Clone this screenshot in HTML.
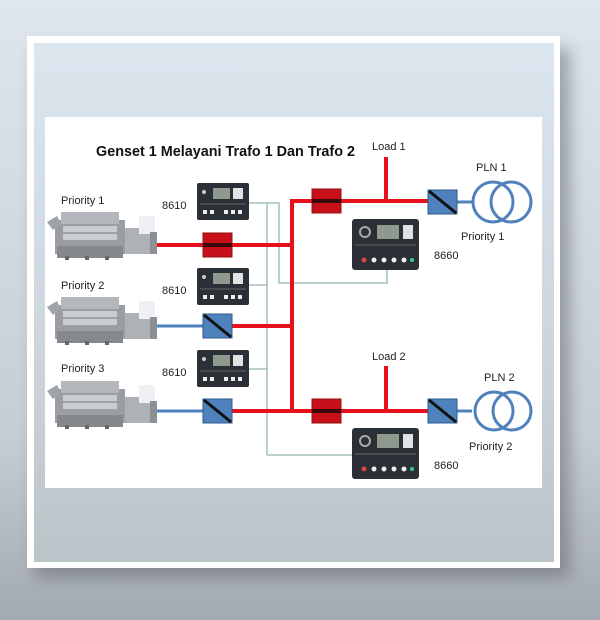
<!DOCTYPE html>
<html><head><meta charset="utf-8"><style>
html,body{margin:0;padding:0}
body{width:600px;height:620px;overflow:hidden;background:linear-gradient(#dfe6ee,#c9d0d6 70%,#a3aaaf);font-family:"Liberation Sans",sans-serif}
</style></head><body>
<svg width="600" height="620" viewBox="0 0 600 620" xmlns="http://www.w3.org/2000/svg" font-family="Liberation Sans, sans-serif" style="display:block">
<defs>
<linearGradient id="bg" x1="0" y1="0" x2="0" y2="1"><stop offset="0" stop-color="#dfe6ee"/><stop offset="0.7" stop-color="#c6cdd3"/><stop offset="1" stop-color="#a3aaaf"/></linearGradient>
<linearGradient id="pg" x1="0" y1="0" x2="0" y2="1"><stop offset="0" stop-color="#dce6ef"/><stop offset="0.6" stop-color="#ccd5dc"/><stop offset="1" stop-color="#bac3c8"/></linearGradient>
<filter id="sh" x="-10%" y="-10%" width="130%" height="130%"><feGaussianBlur stdDeviation="8"/></filter>
<g id="eng">
<rect x="0" y="8" width="70" height="34" fill="#9a9ea3"/>
<rect x="6" y="0" width="58" height="12" fill="#b4b8bc"/>
<rect x="8" y="14" width="54" height="14" fill="#c9ccd0"/>
<line x1="8" y1="21" x2="62" y2="21" stroke="#777"/>
<rect x="2" y="34" width="66" height="12" fill="#85898e"/>
<polygon points="-8,10 2,4 6,12 -2,18" fill="#a0a4a8"/>
<rect x="70" y="16" width="28" height="26" fill="#aeb2b6"/>
<rect x="84" y="4" width="16" height="18" fill="#eef0f3"/>
<rect x="95" y="20" width="7" height="22" fill="#8d9196"/>
<rect x="10" y="44" width="4" height="4" fill="#666"/><rect x="30" y="44" width="4" height="4" fill="#666"/><rect x="50" y="44" width="4" height="4" fill="#666"/>
</g>
<g id="c86">
<rect x="0" y="0" width="52" height="37" rx="2" fill="#2b3036"/>
<rect x="16" y="5" width="17" height="11" fill="#8e9a8e"/>
<rect x="36" y="5" width="10" height="11" fill="#dfe3e3"/>
<circle cx="7" cy="9" r="2" fill="#ccc"/>
<line x1="3" y1="21" x2="49" y2="21" stroke="#666"/>
<rect x="6" y="27" width="4" height="4" fill="#eee"/><rect x="13" y="27" width="4" height="4" fill="#eee"/><rect x="27" y="27" width="4" height="4" fill="#eee"/><rect x="34" y="27" width="4" height="4" fill="#eee"/><rect x="41" y="27" width="4" height="4" fill="#eee"/>
</g>
<g id="c66">
<rect x="0" y="0" width="67" height="51" rx="3" fill="#2b3036"/>
<rect x="25" y="6" width="22" height="14" fill="#8e9a8e"/>
<rect x="51" y="6" width="10" height="14" fill="#dfe3e3"/>
<circle cx="13" cy="13" r="5" fill="none" stroke="#aaa" stroke-width="2"/>
<line x1="3" y1="26" x2="64" y2="26" stroke="#666"/>
<circle cx="12" cy="41" r="2.5" fill="#d44"/><circle cx="22" cy="41" r="2.5" fill="#eee"/><circle cx="32" cy="41" r="2.5" fill="#eee"/><circle cx="42" cy="41" r="2.5" fill="#eee"/><circle cx="52" cy="41" r="2.5" fill="#eee"/><circle cx="60" cy="41" r="2" fill="#3c9"/>
</g>
<g id="bb"><rect x="0" y="0" width="29" height="24" fill="#4f81bd" stroke="#2c5a8a"/><line x1="1" y1="1" x2="28" y2="23" stroke="#111" stroke-width="3"/></g>
<g id="rb"><rect x="0" y="0" width="29" height="24" fill="#c8101a" stroke="#901010"/><rect x="0" y="10" width="29" height="4" fill="#3a0a0a"/></g>
</defs>
<rect x="0" y="0" width="600" height="620" fill="url(#bg)"/>
<rect x="35" y="48" width="535" height="530" fill="#5c6166" opacity="0.5" filter="url(#sh)"/>
<rect x="27" y="36" width="533" height="532" fill="#fff"/>
<rect x="34" y="43" width="520" height="519" fill="url(#pg)"/>
<rect x="45" y="117" width="497" height="371" fill="#fff"/>
<text x="96" y="156" font-size="14.5" font-weight="bold" fill="#111" textLength="259" lengthAdjust="spacingAndGlyphs">Genset 1 Melayani Trafo 1 Dan Trafo 2</text>
<g stroke="#8fb8b0" stroke-width="1.3" fill="none">
<polyline points="249,203 279,203 279,283 387,283 387,270"/>
<line x1="267" y1="203" x2="267" y2="455"/>
<line x1="249" y1="285" x2="267" y2="285"/>
<line x1="249" y1="369" x2="267" y2="369"/>
<polyline points="267,455 352,455"/>
</g>
<g stroke="#4f81bd" stroke-width="3">
<line x1="150" y1="326" x2="204" y2="326"/>
<line x1="150" y1="411" x2="204" y2="411"/>
<line x1="456" y1="202" x2="472" y2="202"/>
<line x1="456" y1="411" x2="472" y2="411"/>
</g>
<g stroke="#e8101a" stroke-width="4" fill="none">
<line x1="152" y1="245" x2="294" y2="245"/>
<line x1="292" y1="199" x2="292" y2="413"/>
<line x1="290" y1="201" x2="430" y2="201"/>
<line x1="386" y1="157" x2="386" y2="201"/>
<line x1="232" y1="326" x2="292" y2="326"/>
<line x1="232" y1="411" x2="430" y2="411"/>
<line x1="386" y1="366" x2="386" y2="411"/>
</g>
<use href="#rb" x="203" y="233"/>
<use href="#rb" x="312" y="189"/>
<use href="#rb" x="312" y="399"/>
<use href="#bb" x="203" y="314"/>
<use href="#bb" x="203" y="399"/>
<use href="#bb" x="428" y="190"/>
<use href="#bb" x="428" y="399"/>
<g fill="none" stroke="#4f81bd" stroke-width="3">
<circle cx="493" cy="202" r="20"/><circle cx="511" cy="202" r="20"/>
<circle cx="494" cy="411" r="19"/><circle cx="512" cy="411" r="19"/>
</g>
<use href="#eng" x="55" y="212"/>
<use href="#eng" x="55" y="297"/>
<use href="#eng" x="55" y="381"/>
<use href="#c86" x="197" y="183"/>
<use href="#c86" x="197" y="268"/>
<use href="#c86" x="197" y="350"/>
<use href="#c66" x="352" y="219"/>
<use href="#c66" x="352" y="428"/>
<g font-size="11" fill="#222">
<text x="61" y="204">Priority 1</text>
<text x="61" y="289">Priority 2</text>
<text x="61" y="372">Priority 3</text>
<text x="162" y="209">8610</text>
<text x="162" y="294">8610</text>
<text x="162" y="376">8610</text>
<text x="372" y="150">Load 1</text>
<text x="372" y="360">Load 2</text>
<text x="476" y="171">PLN 1</text>
<text x="484" y="381">PLN 2</text>
<text x="461" y="240">Priority 1</text>
<text x="469" y="450">Priority 2</text>
<text x="434" y="259">8660</text>
<text x="434" y="469">8660</text>
</g>
</svg>
</body></html>
